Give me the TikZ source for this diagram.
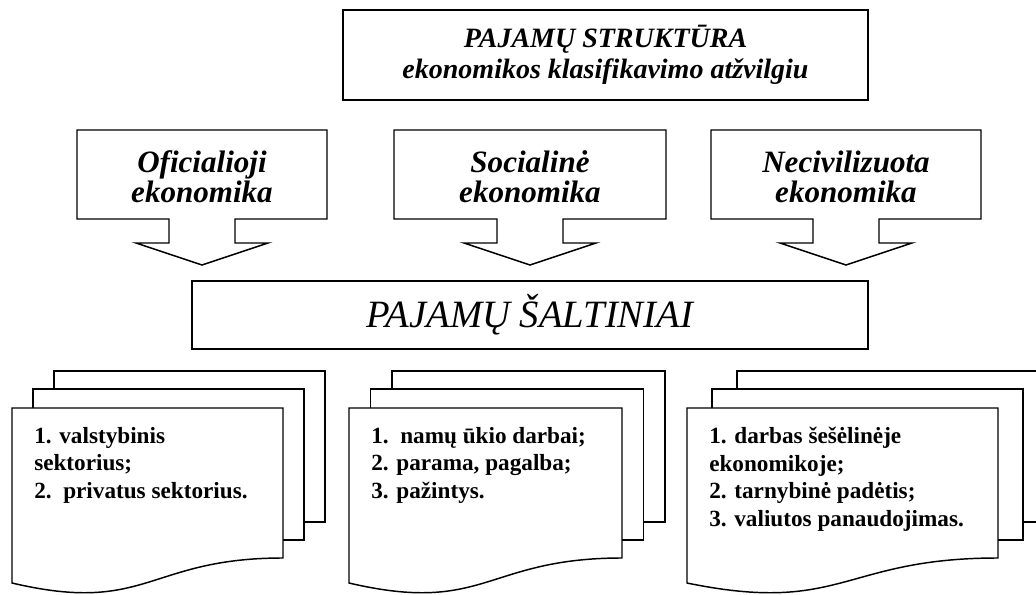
\documentclass[tikz,border=0pt]{standalone}
\usepackage{fontspec}
\setmainfont{Liberation Serif}
\usetikzlibrary{calc}

\begin{document}
\begin{tikzpicture}[x=0.75pt, y=-0.75pt,
	heading/.style={draw, line width=1.5pt, fill=white, inner sep=0pt, align=center},
	econ/.style={draw, line width=1.1pt, fill=white, line join=miter},
	sheet/.style={draw, line width=1.1pt, fill=white},
	econtext/.style={font=\fontsize{23.3}{22.8}\selectfont\bfseries\itshape, align=center},
	listtext/.style={font=\fontsize{17.4}{20.6}\selectfont\bfseries, align=left, anchor=north west, inner sep=0pt}
	]
	\useasboundingbox (0,0) rectangle (1036,595);

	% Struktura
	\node[heading, minimum width=393.75pt, minimum height=67.5pt, font=\fontsize{21}{23.25}\selectfont\bfseries\itshape] (struct) at (605.5,55) {PAJAMŲ STRUKTŪRA\\ekonomikos klasifikavimo atžvilgiu};

	% Ekonomikos
	\foreach \cx/\hw/\nm/\txt in {202/125/ofic/{Oficialioji\\ekonomika}, 530/136/soc/{Socialinė\\ekonomika}, 846/135/necv/{Necivilizuota\\ekonomika}}{
		\draw[econ] ({\cx-\hw},130) -- ({\cx+\hw},130) -- ({\cx+\hw},219) -- ({\cx+33},219) -- ({\cx+33},243) -- ({\cx+66},243) -- (\cx,265) -- ({\cx-66},243) -- ({\cx-33},243) -- ({\cx-33},219) -- ({\cx-\hw},219) -- cycle;
		\node[econtext] (\nm) at (\cx,177) {\txt};
	}

	% Saltiniai
	\node[heading, minimum width=507pt, minimum height=51pt, font=\fontsize{29}{30}\selectfont\itshape] (salt) at (530,315) {PAJAMŲ ŠALTINIAI};

	% Dokumentai
	\foreach \x/\w/\dx/\nm/\txt in {12/271/21/valst/{1. valstybinis\\sektorius;\\2.\ \ privatus sektorius.}, 349/273/21.5/namu/{1.\ \ namų ūkio darbai;\\2. parama, pagalba;\\3. pažintys.}, 687/311/25/sesel/{1. darbas šešėlinėje\\ekonomikoje;\\2. tarnybinė padėtis;\\3. valiutos panaudojimas.}}{
		\draw[sheet] ({\x+2*\dx},371) rectangle ({\x+2*\dx+\w},522);
		\draw[sheet] ({\x+\dx},389) rectangle ({\x+\dx+\w},540);
		\draw[sheet] (\x,408) -- ({\x+\w},408) -- ({\x+\w},558) .. controls ({\x+\w/2},558) and ({\x+\w/2},615) .. (\x,583) -- cycle;
		\node[listtext] (\nm) at ({\x+22},427) {\txt};
	}
\end{tikzpicture}
\end{document}
